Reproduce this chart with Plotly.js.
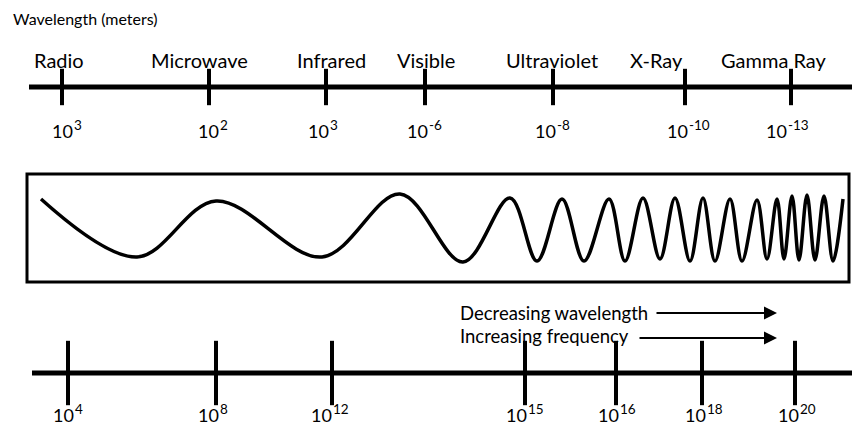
<!DOCTYPE html>
<html>
<head>
<meta charset="utf-8">
<script src="https://cdn.plot.ly/plotly-3.0.1.min.js"></script>
<style>html,body{margin:0;padding:0;background:#fff;}#chart{width:852px;height:430px;}</style>
</head>
<body>
<div id="chart"></div>
<script>
// Top scale: spectrum bands and wavelengths (meters), written as 10^exponent
const bands = ['Radio', 'Microwave', 'Infrared', 'Visible', 'Ultraviolet', 'X-Ray', 'Gamma Ray'];
const bandTickPos = [62, 209, 326, 425, 553, 685, 791];
const bandNamePos = [59, 199, 331, 426, 552, 656, 774];
const wavelengthBase = '10';
const wavelengthExp = ['3', '2', '3', '-6', '-8', '-10', '-13'];
const wavelengthLabelPos = [74, 220, 330, 429, 557, 689, 788];

// Bottom scale: frequencies, written as 10^exponent
const freqTickPos = [68, 216, 332, 525, 616, 702, 795];
const freqExp = ['4', '8', '12', '15', '16', '18', '20'];
const freqLabelPos = [75, 220, 333, 528, 620, 707, 800];

// Wave crests and troughs
const waveX = [41, 137, 216, 322, 400, 463, 510, 537, 562, 584, 609, 625, 643, 660, 675, 690, 703, 715, 730, 742, 757, 767, 777, 784, 792, 799, 807, 815, 824, 833, 843];
const waveY = [199, 257, 201, 257, 194, 262, 198, 261, 199, 261, 199, 261, 198, 259, 198, 261, 198, 261, 199, 261, 200, 259, 199, 259, 196, 260, 195, 260, 196, 261, 199];

// Direction notes
const notes = ['Decreasing wavelength', 'Increasing frequency'];

const FONT = 'Lato, Carlito, "Liberation Sans", sans-serif';
const topY = 87, botY = 373;
const rep = (v, n) => Array(n).fill(v);

const traces = [
  // axis lines
  {x: [29, 852], y: [topY, topY], mode: 'lines', line: {color: '#000', width: 5}, hoverinfo: 'skip'},
  {x: [32, 852], y: [botY, botY], mode: 'lines', line: {color: '#000', width: 5}, hoverinfo: 'skip'},
  // tick marks
  {x: bandTickPos, y: rep(topY, bandTickPos.length), mode: 'markers',
   marker: {symbol: 'line-ns', size: 26, color: '#000', line: {color: '#000', width: 4}}, hoverinfo: 'skip'},
  {x: freqTickPos, y: rep(botY, freqTickPos.length), mode: 'markers',
   marker: {symbol: 'line-ns', size: 46, color: '#000', line: {color: '#000', width: 4}}, hoverinfo: 'skip'},
  // wave
  {x: waveX, y: waveY, mode: 'lines', line: {color: '#000', width: 3.5, shape: 'spline', smoothing: 1}, hoverinfo: 'skip'}
];

const ann = [];
const txt = (x, y, text, size, xanchor) => ann.push({x: x, y: y, xref: 'x', yref: 'y', text: text, showarrow: false,
  xanchor: xanchor || 'center', yanchor: 'middle', font: {family: FONT, size: size, color: '#000'},
  borderpad: 0});
const power = (x, yBase, exp) => {
  txt(x, yBase, wavelengthBase, 18, 'right');
  txt(x - 1, yBase - 6, exp, 13.5, 'left');
};

txt(12, 18, 'Wavelength (meters)', 16, 'left');
bands.forEach((b, i) => txt(bandNamePos[i], 60, b, 20));
wavelengthExp.forEach((e, i) => power(wavelengthLabelPos[i], 131, e));
freqExp.forEach((e, i) => power(freqLabelPos[i], 415, e));
txt(459, 313, notes[0], 18.5, 'left');
txt(459, 336, notes[1], 18.5, 'left');

ann.push({x: 777, y: 313, ax: 655, ay: 313, axref: 'x', ayref: 'y', xref: 'x', yref: 'y', text: '', showarrow: true,
  arrowhead: 2, arrowsize: 1.3, arrowwidth: 2, arrowcolor: '#000'});
ann.push({x: 777, y: 338, ax: 638, ay: 338, axref: 'x', ayref: 'y', xref: 'x', yref: 'y', text: '', showarrow: true,
  arrowhead: 2, arrowsize: 1.3, arrowwidth: 2, arrowcolor: '#000'});

const layout = {
  width: 852, height: 430,
  margin: {l: 0, r: 0, t: 0, b: 0},
  paper_bgcolor: '#fff', plot_bgcolor: '#fff',
  showlegend: false,
  xaxis: {range: [0, 852], visible: false, fixedrange: true},
  yaxis: {range: [430, 0], visible: false, fixedrange: true},
  shapes: [
    {type: 'rect', xref: 'x', yref: 'y', x0: 27, x1: 849, y0: 174, y1: 282, line: {color: '#000', width: 3}}
  ],
  annotations: ann
};

Plotly.newPlot('chart', traces, layout, {displayModeBar: false, staticPlot: true});
</script>
</body>
</html>
